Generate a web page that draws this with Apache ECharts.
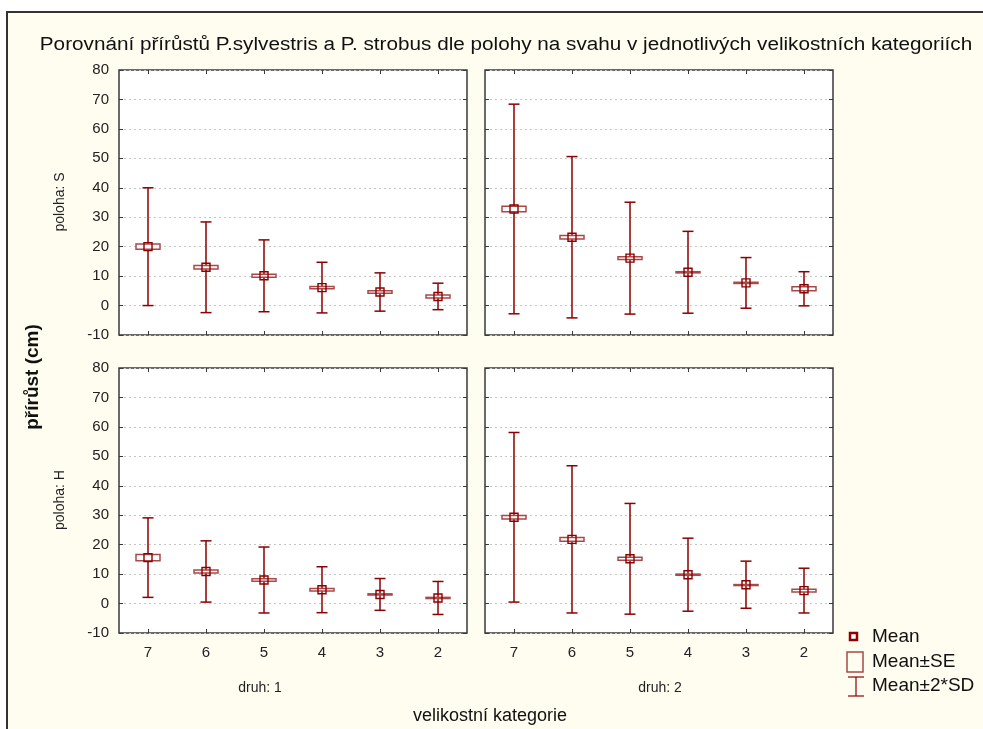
<!DOCTYPE html>
<html>
<head>
<meta charset="utf-8">
<script src="https://cdn.jsdelivr.net/npm/echarts@6/dist/echarts.min.js"></script>
<style>
  html, body { margin: 0; padding: 0; background: #fff; }
  #chart { width: 983px; height: 729px; }
</style>
</head>
<body>
<div id="chart"></div>
<script>
// velikostní kategorie
const categories = ['7', '6', '5', '4', '3', '2']
const yTicks = [-10, 0, 10, 20, 30, 40, 50, 60, 70, 80]

// druh 1 / druh 2, poloha S / poloha H  (mean, SE, SD)
const meanS1 = [20.0, 13.0, 10.1, 6.1, 4.6, 3.1]
const seS1 = [0.9, 0.6, 0.5, 0.4, 0.4, 0.5]
const sdS1 = [10.0, 7.7, 6.1, 4.3, 3.25, 2.25]

const meanS2 = [32.8, 23.2, 16.1, 11.3, 7.7, 5.7]
const seS2 = [0.9, 0.6, 0.5, 0.2, 0.2, 0.7]
const sdS2 = [17.8, 13.7, 9.5, 6.95, 4.3, 2.9]

const meanH1 = [15.6, 10.9, 8.0, 4.7, 3.1, 1.9]
const seH1 = [1.1, 0.5, 0.4, 0.4, 0.2, 0.2]
const sdH1 = [6.75, 5.2, 5.6, 3.9, 2.7, 2.8]

const meanH2 = [29.3, 21.8, 15.2, 9.8, 6.4, 4.4]
const seH2 = [0.6, 0.6, 0.5, 0.2, 0.05, 0.5]
const sdH2 = [14.4, 12.5, 9.4, 6.2, 4.0, 3.8]

const panels = [
  { mean: meanS1, se: seS1, sd: sdS1, left: 119, top: 70 },
  { mean: meanS2, se: seS2, sd: sdS2, left: 485, top: 70 },
  { mean: meanH1, se: seH1, sd: sdH1, left: 119, top: 368 },
  { mean: meanH2, se: seH2, sd: sdH2, left: 485, top: 368 }
]

const dark = '#8b0000'
const boxCol = '#a84848'
const font = 'Liberation Sans, Arial, sans-serif'

function buildData (p) {
  return categories.map(function (c, i) {
    let m = p.mean[i], se = p.se[i], sd = p.sd[i]
    return [i, m - 2 * sd, m - se, m, m + se, m + 2 * sd]
  })
}

function renderItem (params, api) {
  let x = api.coord([api.value(0), 0])[0]
  let yLow = api.coord([api.value(0), api.value(1)])[1]
  let ySeLow = api.coord([api.value(0), api.value(2)])[1]
  let yMean = api.coord([api.value(0), api.value(3)])[1]
  let ySeHigh = api.coord([api.value(0), api.value(4)])[1]
  let yHigh = api.coord([api.value(0), api.value(5)])[1]
  let capW = 11, boxW = 24, mSize = 8
  return {
    type: 'group',
    children: [
      { type: 'line', shape: { x1: x, y1: yLow, x2: x, y2: yHigh }, style: { stroke: dark, lineWidth: 1.5 } },
      { type: 'line', shape: { x1: x - capW / 2, y1: yHigh, x2: x + capW / 2, y2: yHigh }, style: { stroke: dark, lineWidth: 1.5 } },
      { type: 'line', shape: { x1: x - capW / 2, y1: yLow, x2: x + capW / 2, y2: yLow }, style: { stroke: dark, lineWidth: 1.5 } },
      { type: 'rect', shape: { x: x - boxW / 2, y: ySeHigh, width: boxW, height: Math.max(ySeLow - ySeHigh, 1) }, style: { fill: '#fff', stroke: boxCol, lineWidth: 1.5 } },
      { type: 'rect', shape: { x: x - mSize / 2, y: yMean - mSize / 2, width: mSize, height: mSize }, style: { fill: 'rgba(255,255,255,0)', stroke: dark, lineWidth: 1.4 } }
    ]
  }
}

let grids = [], xAxes = [], yAxes = [], series = []
panels.forEach(function (p, g) {
  grids.push({
    left: p.left, top: p.top, width: 348, height: 265,
    show: true, backgroundColor: '#fff', borderColor: '#3a3a3a', borderWidth: 1.5
  })
  let bottomRow = g >= 2
  let leftCol = g % 2 === 0
  xAxes.push({
    type: 'category', gridIndex: g, data: categories, position: 'bottom',
    axisLine: { show: false, onZero: false },
    axisTick: { show: true, inside: true, length: 4, alignWithLabel: true, lineStyle: { color: '#3a3a3a' } },
    axisLabel: { show: bottomRow, color: '#222', fontSize: 15, fontFamily: font, margin: 12 }
  })
  xAxes.push({
    type: 'category', gridIndex: g, data: categories, position: 'top',
    axisLine: { show: false, onZero: false },
    axisTick: { show: true, inside: true, length: 4, alignWithLabel: true, lineStyle: { color: '#3a3a3a' } },
    axisLabel: { show: false }
  })
  yAxes.push({
    type: 'value', gridIndex: g, min: -10, max: 80, interval: 10, position: 'left',
    axisLine: { show: false, onZero: false },
    axisTick: { show: true, inside: true, length: 4, lineStyle: { color: '#3a3a3a' } },
    axisLabel: { show: leftCol, color: '#222', fontSize: 15, fontFamily: font, margin: 10,
      customValues: yTicks },
    splitLine: { show: true, lineStyle: { color: '#c4c4c4', type: [2, 3], width: 1 } }
  })
  yAxes.push({
    type: 'value', gridIndex: g, min: -10, max: 80, interval: 10, position: 'right',
    axisLine: { show: false, onZero: false },
    axisTick: { show: true, inside: true, length: 4, lineStyle: { color: '#3a3a3a' } },
    axisLabel: { show: false },
    splitLine: { show: false }
  })
  series.push({
    type: 'custom', xAxisIndex: g * 2, yAxisIndex: g * 2,
    renderItem: renderItem, data: buildData(p), z: 5,
    encode: { x: 0, y: [1, 2, 3, 4, 5] }
  })
})

let myChart = echarts.init(document.getElementById('chart'), null, { renderer: 'canvas' })
let option = {
  backgroundColor: '#fff',
  animation: false,
  grid: grids,
  xAxis: xAxes,
  yAxis: yAxes,
  series: series,
  graphic: [
    { type: 'rect', z: -10, shape: { x: 7, y: 12, width: 990, height: 730 },
      style: { fill: '#fffcf0', stroke: '#333', lineWidth: 2 } },
    { type: 'text', x: 506, y: 45, scaleX: 1.15, style: { text: 'Porovnání přírůstů P.sylvestris a P. strobus dle polohy na svahu v jednotlivých velikostních kategoriích',
      fill: '#111', font: '18px ' + font, align: 'center', verticalAlign: 'middle' } },
    { type: 'text', x: 33, y: 377, rotation: Math.PI / 2, style: { text: 'přírůst (cm)',
      fill: '#111', font: 'bold 19px ' + font, align: 'center', verticalAlign: 'middle' } },
    { type: 'text', x: 60, y: 202, rotation: Math.PI / 2, style: { text: 'poloha: S',
      fill: '#222', font: '14px ' + font, align: 'center', verticalAlign: 'middle' } },
    { type: 'text', x: 60, y: 500, rotation: Math.PI / 2, style: { text: 'poloha: H',
      fill: '#222', font: '14px ' + font, align: 'center', verticalAlign: 'middle' } },
    { type: 'text', x: 260, y: 688, style: { text: 'druh: 1',
      fill: '#222', font: '14px ' + font, align: 'center', verticalAlign: 'middle' } },
    { type: 'text', x: 660, y: 688, style: { text: 'druh: 2',
      fill: '#222', font: '14px ' + font, align: 'center', verticalAlign: 'middle' } },
    { type: 'text', x: 490, y: 716, style: { text: 'velikostní kategorie',
      fill: '#111', font: '18px ' + font, align: 'center', verticalAlign: 'middle' } },
    // legenda
    { type: 'rect', shape: { x: 850, y: 633, width: 7, height: 7 },
      style: { fill: '#fff', stroke: dark, lineWidth: 2.5 } },
    { type: 'text', x: 872, y: 637, style: { text: 'Mean', fill: '#111', font: '19px ' + font, verticalAlign: 'middle' } },
    { type: 'rect', shape: { x: 847, y: 652, width: 16, height: 20 },
      style: { fill: 'none', stroke: boxCol, lineWidth: 1.5 } },
    { type: 'text', x: 872, y: 662, style: { text: 'Mean±SE', fill: '#111', font: '19px ' + font, verticalAlign: 'middle' } },
    { type: 'line', shape: { x1: 848, y1: 677, x2: 864, y2: 677 }, style: { stroke: dark, lineWidth: 1.2 } },
    { type: 'line', shape: { x1: 856, y1: 677, x2: 856, y2: 696 }, style: { stroke: dark, lineWidth: 1.2 } },
    { type: 'line', shape: { x1: 848, y1: 696, x2: 864, y2: 696 }, style: { stroke: dark, lineWidth: 1.2 } },
    { type: 'text', x: 872, y: 686, style: { text: 'Mean±2*SD', fill: '#111', font: '19px ' + font, verticalAlign: 'middle' } }
  ]
}
myChart.setOption(option)
window.addEventListener('resize', function () {
  myChart.resize()
})
</script>
</body>
</html>
